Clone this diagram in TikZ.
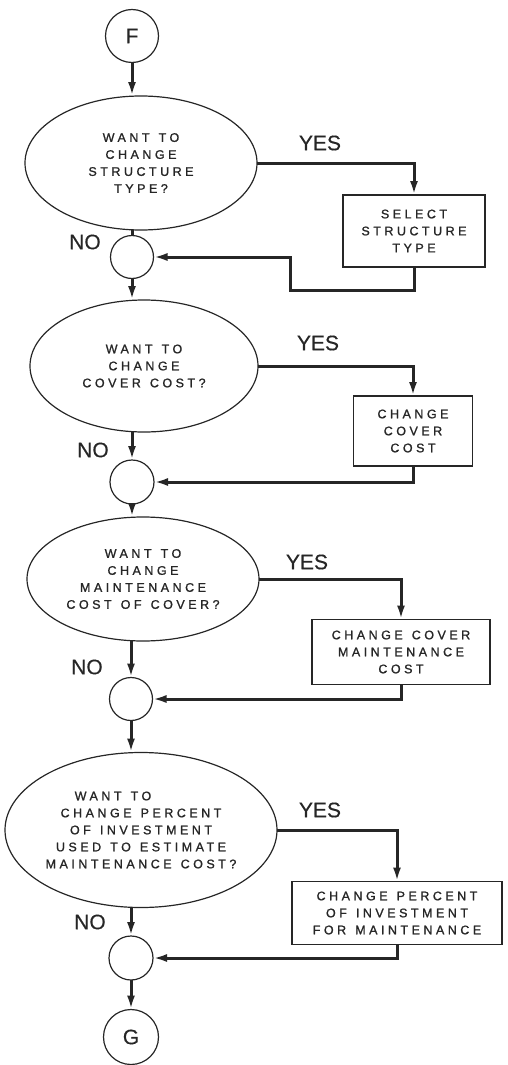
\documentclass[tikz,border=0pt]{standalone}
\usepackage{fontspec}
\newfontfamily\lettering[LetterSpace=28,WordSpace=1.3,FakeBold=1.2]{Liberation Sans}
\newfontfamily\bigletter[FakeBold=0.4]{Liberation Sans}
\usetikzlibrary{shapes.geometric,arrows.meta}
\definecolor{ink}{HTML}{262626}
\begin{document}
\begin{tikzpicture}[x=1pt,y=-1pt,
  every node/.style={inner sep=0pt,outer sep=0pt,text=ink},
  question/.style={ellipse,draw=ink,line width=1.2pt,align=center,
    font=\lettering\fontsize{12.5}{17}\selectfont},
  action/.style={rectangle,draw=ink,line width=1.3pt,align=center,
    font=\lettering\fontsize{12.5}{17}\selectfont},
  junction/.style={circle,draw=ink,line width=1.2pt},
  connector/.style={circle,draw=ink,line width=1.2pt,
    font=\bigletter\fontsize{21}{21}\selectfont},
  answer/.style={font=\bigletter\fontsize{21}{21}\selectfont},
  flow/.style={draw=ink,line width=3pt,-{Latex[length=14pt,width=8pt]}},
  plain/.style={draw=ink,line width=3pt}
]
\useasboundingbox (0,0) rectangle (507,1065);

% main column
\node[connector,minimum size=53pt] (F) at (132,36) {F};
\node[question,minimum width=232pt,minimum height=134pt] (E1) at (141,163)
  {WANT TO\\CHANGE\\STRUCTURE\\TYPE?};
\node[junction,minimum size=43pt] (J1) at (132,257) {};
\node[question,minimum width=228pt,minimum height=132pt] (E2) at (144,366)
  {WANT TO\\CHANGE\\COVER COST?};
\node[junction,minimum size=44pt] (J2) at (132,482) {};
\node[question,minimum width=232pt,minimum height=124pt] (E3) at (143,579)
  {WANT TO\\CHANGE\\MAINTENANCE\\COST OF COVER?};
\node[junction,minimum size=43pt] (J3) at (131,699) {};
\node[question,minimum width=272pt,minimum height=155pt] (E4) at (141,830)
  {WANT TO\hspace*{56pt}\\CHANGE PERCENT\\OF INVESTMENT\\USED TO ESTIMATE\\MAINTENANCE COST?};
\node[junction,minimum size=44pt] (J4) at (131,958) {};
\node[connector,minimum size=55pt] (G) at (131,1037) {G};

% actions on the right
\node[action,minimum width=142pt,minimum height=72pt] (B1) at (414,231)
  {SELECT\\STRUCTURE\\TYPE};
\node[action,minimum width=119pt,minimum height=70pt] (B2) at (413,431)
  {CHANGE\\COVER\\COST};
\node[action,minimum width=178pt,minimum height=65pt] (B3) at (401,652)
  {CHANGE COVER\\MAINTENANCE\\COST};
\node[action,minimum width=210pt,minimum height=63pt] (B4) at (397,913)
  {CHANGE PERCENT\\OF INVESTMENT\\FOR MAINTENANCE};

% labels
\node[answer] (Y1) at (320,143) {YES};
\node[answer] (N1) at (85,242) {NO};
\node[answer] (Y2) at (318,343) {YES};
\node[answer] (N2) at (93,450) {NO};
\node[answer] (Y3) at (307,562) {YES};
\node[answer] (N3) at (87,667) {NO};
\node[answer] (Y4) at (320,810) {YES};
\node[answer] (N4) at (90,922) {NO};

% detour around the first box
\coordinate (k1) at (290,290);

% vertical flow
\draw[flow] (F.south) -- (F.south |- E1.north);
\draw[plain] (J1.north |- E1.south) -- (J1.north);
\draw[flow] (J1.south) -- (J1.south |- E2.north);
\draw[flow] (J2.north |- E2.south) -- (J2.north);
\draw[flow] (J2.south) -- (J2.south |- E3.north);
\draw[flow] (J3.north |- E3.south) -- (J3.north);
\draw[flow] (J3.south) -- (J3.south |- E4.north);
\draw[flow] (J4.north |- E4.south) -- (J4.north);
\draw[flow] (J4.south) -- (G.north);

% yes branches
\draw[flow] (E1.east) -| (B1.north);
\draw[flow] (E2.east) -| (B2.north);
\draw[flow] (E3.east) -| (B3.north);
\draw[flow] (E4.east) -| (B4.north);

% returns
\draw[flow] (B1.south) |- (k1) |- (J1.east);
\draw[flow] (B2.south) |- (J2.east);
\draw[flow] (B3.south) |- (J3.east);
\draw[flow] (B4.south) |- (J4.east);
\end{tikzpicture}
\end{document}
